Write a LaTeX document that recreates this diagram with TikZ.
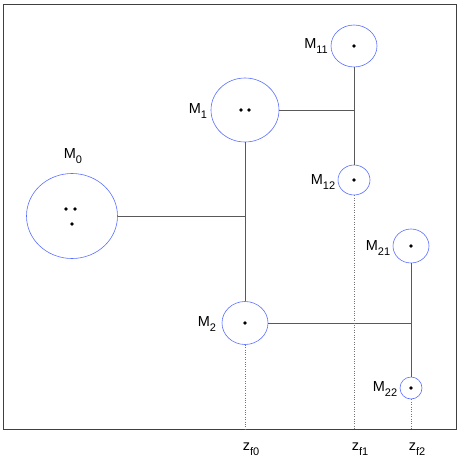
\documentclass[tikz,border=0pt]{standalone}
\usepackage{fontspec}
\setmainfont{Liberation Sans}
\usetikzlibrary{shapes.geometric}

\newcommand{\lab}[2]{#1\raisebox{-5.5pt}{\fontsize{11}{11}\selectfont #2}}

\begin{document}
\begin{tikzpicture}[x=1pt, y=-1pt,
  clus/.style={ellipse, draw={rgb,255:red,90;green,110;blue,255}, line width=0.6pt, inner sep=0pt},
  mtext/.style={font=\fontsize{14.5}{14.5}\selectfont, inner sep=1pt},
  link/.style={draw=black!65, line width=0.6pt},
  drop/.style={draw=black!55, thin, dotted}
]
\useasboundingbox (0,0) rectangle (460,460);
\draw[black!75] (3,4) rectangle (456,429);

\node[clus, minimum width=91, minimum height=85] (m0)  at (72,216)  {};
\node[clus, minimum width=68, minimum height=64] (m1)  at (245,110) {};
\node[clus, minimum width=46, minimum height=43] (m2)  at (245,323) {};
\node[clus, minimum width=46, minimum height=42] (m11) at (354,46)  {};
\node[clus, minimum width=32, minimum height=30] (m12) at (354,180) {};
\node[clus, minimum width=36, minimum height=34] (m21) at (411,246) {};
\node[clus, minimum width=22, minimum height=22] (m22) at (411,388) {};

% points inside each cluster
\foreach \p in {(66,209),(75,209),(72,224),(241,110),(249,110),(245,323),
                (354,46),(354,180),(411,246),(411,388)}
  \fill \p circle (1.9);

\node[mtext] (l0)  at (73,156)  {\lab{M}{0}};
\node[mtext] (l1)  at (198,111) {\lab{M}{1}};
\node[mtext] (l2)  at (207,324) {\lab{M}{2}};
\node[mtext] (l11) at (316,46)  {\lab{M}{11}};
\node[mtext] (l12) at (323,182) {\lab{M}{12}};
\node[mtext] (l21) at (378,248) {\lab{M}{21}};
\node[mtext] (l22) at (385,389) {\lab{M}{22}};

\coordinate (j0) at (245,216);
\coordinate (j1) at (354,110);
\coordinate (j2) at (411,323);
\coordinate (b0) at (245,429);
\coordinate (b1) at (354,429);
\coordinate (b2) at (411,429);

\draw[link] (m1) -- (m2);
\draw[link] (m0) -- (j0);
\draw[link] (m11) -- (m12);
\draw[link] (m1) -- (j1);
\draw[link] (m21) -- (m22);
\draw[link] (m2) -- (j2);

\draw[drop] (m2) -- (b0);
\draw[drop] (m12) -- (b1);
\draw[drop] (m22) -- (b2);

\node[mtext] (z0) at (251,449) {\lab{z}{f0}};
\node[mtext] (z1) at (360,449) {\lab{z}{f1}};
\node[mtext] (z2) at (417,449) {\lab{z}{f2}};
\end{tikzpicture}
\end{document}
